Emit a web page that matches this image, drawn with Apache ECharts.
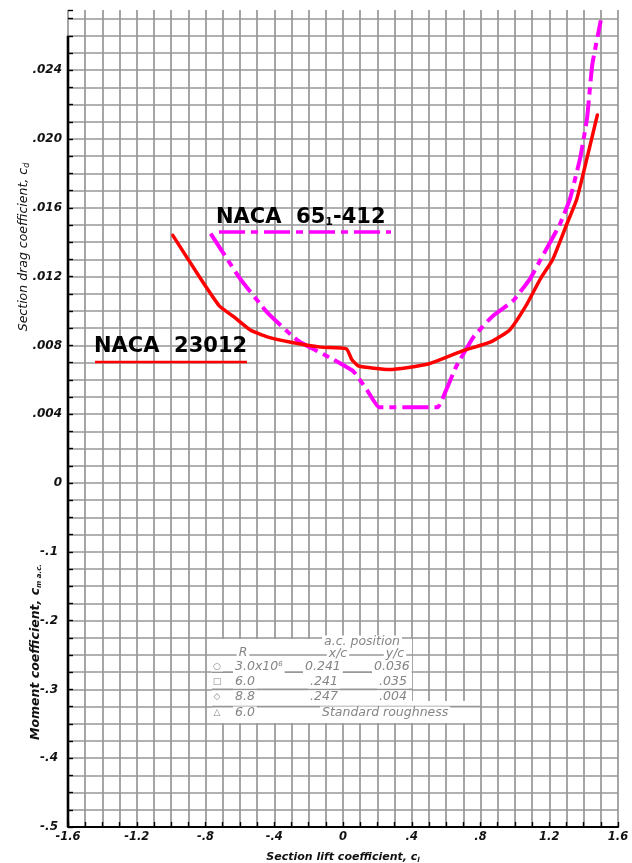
<!DOCTYPE html>
<html><head><meta charset="utf-8">
<script src="https://cdn.jsdelivr.net/npm/echarts@6/dist/echarts.min.js"></script>
<style>html,body{margin:0;padding:0;background:#fff}#c{width:632px;height:863px}</style>
</head><body><div id="c"></div>
<script>
// ---- data ----
const liftNACA23012 = [-0.99, -0.83, -0.72, -0.64, -0.54, -0.44, -0.31, -0.13, 0.02, 0.05, 0.09, 0.27, 0.49, 0.70, 0.86, 0.97, 1.07, 1.15, 1.22, 1.30, 1.36, 1.42, 1.48];
const dragNACA23012 = [0.0144, 0.0119, 0.0103, 0.0097, 0.0089, 0.0085, 0.0082, 0.0079, 0.0078, 0.0072, 0.0068, 0.0066, 0.0069, 0.0077, 0.0082, 0.0089, 0.0104, 0.0119, 0.0130, 0.0150, 0.0165, 0.0189, 0.0214];
const liftNACA65 = [-0.77, -0.60, -0.44, -0.29, -0.25, -0.06, 0.06, 0.14, 0.21, 0.55, 0.60, 0.66, 0.76, 0.87, 0.99, 1.09, 1.15, 1.26, 1.32, 1.38, 1.42, 1.45, 1.50];
const dragNACA65 = [0.0145, 0.0119, 0.0099, 0.0085, 0.0082, 0.0072, 0.0065, 0.0054, 0.0044, 0.0044, 0.0054, 0.0068, 0.0085, 0.0097, 0.0106, 0.0119, 0.0130, 0.0150, 0.0165, 0.0189, 0.0212, 0.0243, 0.0269];

const xTickValues = [-1.6, -1.2, -0.8, -0.4, 0, 0.4, 0.8, 1.2, 1.6];
const xTickLabels = ['-1.6', '-1.2', '-.8', '-.4', '0', '.4', '.8', '1.2', '1.6'];
const dragTickValues = [0, 0.004, 0.008, 0.012, 0.016, 0.020, 0.024];
const dragTickLabels = ['0', '.004', '.008', '.012', '.016', '.020', '.024'];
const momentTickValues = [-0.1, -0.2, -0.3, -0.4, -0.5];
const momentTickLabels = ['-.1', '-.2', '-.3', '-.4', '-.5'];

const tableSymbols = ['○', '□', '◇', '△'];
const tableR = ['3.0x10', '6.0', '8.8', '6.0'];
const tableXc = ['0.241', '.241', '.247', 'Standard roughness'];
const tableYc = ['0.036', '.035', '.004', ''];

(function () {
function lookup(vals, labels, v, tol) {
  for (let i = 0; i < vals.length; i++) if (Math.abs(vals[i] - v) < tol) return labels[i];
  return '';
}
function zip(a, b) { return a.map((v, i) => [v, b[i]]); }

const GRID = '#979797';
const tickFont = { fontFamily: 'DejaVu Sans', fontStyle: 'italic', fontWeight: 'bold', color: '#111' };

const chart = echarts.init(document.getElementById('c'), null, { renderer: 'canvas' });
const option = {
  backgroundColor: '#fff',
  animation: false,
  grid: { left: 68, right: 14, top: 10, bottom: 36, containLabel: false, outerBoundsMode: 'none' },
  xAxis: {
    type: 'value', min: -1.6, max: 1.6, interval: 0.1,
    axisLine: { show: true, onZero: false, lineStyle: { color: '#000', width: 2.2 } },
    axisTick: { show: true, inside: true, length: 5, lineStyle: { color: '#000', width: 1.4 } },
    splitLine: { show: true, lineStyle: { color: GRID, width: 1.7 } },
    axisLabel: Object.assign({ fontSize: 11.5, margin: 4, formatter: v => lookup(xTickValues, xTickLabels, v, 1e-6) }, tickFont),
    name: 'Section lift coefficient, c{s|l}',
    nameLocation: 'middle', nameGap: 24,
    nameTextStyle: {
      fontFamily: 'DejaVu Sans', fontStyle: 'italic', fontWeight: 'bold', fontSize: 11, color: '#111',
      rich: { s: { fontFamily: 'DejaVu Sans', fontStyle: 'italic', fontWeight: 'bold', fontSize: 7, color: '#111', padding: [6, 0, 0, 0] } }
    }
  },
  yAxis: [{
    type: 'value', min: -0.020, max: 0.0275, interval: 0.001,
    axisLine: { show: false, onZero: false },
    axisTick: { show: true, inside: true, length: 5, lineStyle: { color: '#000', width: 1.4 } },
    splitLine: { show: true, showMaxLine: false, lineStyle: { color: GRID, width: 1.7 } },
    axisLabel: Object.assign({ fontSize: 12, margin: 6, formatter: v => lookup(dragTickValues, dragTickLabels, v, 1e-7) }, tickFont)
  }, {
    type: 'value', min: -0.5, max: 0.6875, interval: 0.1, position: 'left', offset: 0,
    axisLine: { show: false, onZero: false },
    axisTick: { show: false },
    splitLine: { show: false },
    axisLabel: Object.assign({ fontSize: 12, margin: 10, formatter: v => lookup(momentTickValues, momentTickLabels, v, 1e-6) }, tickFont)
  }],
  series: [{
    name: 'NACA 23012', type: 'line', yAxisIndex: 0, showSymbol: false, symbol: 'none', z: 6,
    smooth: 0.15,
    data: zip(liftNACA23012, dragNACA23012),
    lineStyle: { color: '#ff0000', width: 3.5, cap: 'round', join: 'round' }
  }, {
    name: 'NACA 65-412', type: 'line', yAxisIndex: 0, showSymbol: false, symbol: 'none', z: 5,
    smooth: 0.12,
    data: zip(liftNACA65, dragNACA65),
    lineStyle: { color: '#ff00ff', width: 4, type: [26, 6, 7, 6], cap: 'butt', join: 'round' }
  }]
};
chart.setOption(option);

const px = (x, y) => chart.convertToPixel({ gridIndex: 0 }, [x, y]);
const pTop = px(-1.6, 0.026), pBot = px(-1.6, -0.020);
const g = [];
g.push({ type: 'line', z: 50, shape: { x1: pTop[0], y1: pTop[1], x2: pBot[0], y2: pBot[1] }, style: { stroke: '#000', lineWidth: 2.6 } });

g.push({ type: 'rect', z: 40, shape: { x: 212, y: 639, width: 200, height: 84 }, style: { fill: '#fff' } });
g.push({ type: 'rect', z: 40, shape: { x: 410, y: 701, width: 70, height: 22 }, style: { fill: '#fff' } });
[-0.010, -0.011, -0.012, -0.013].forEach(v => {
  const p = px(0, v);
  g.push({ type: 'line', z: 41, shape: { x1: 212, y1: p[1], x2: v === -0.013 ? 480 : 412, y2: p[1] }, style: { stroke: GRID, lineWidth: 1.7 } });
});
const tFont = { fontFamily: 'DejaVu Sans', fontStyle: 'italic', fontSize: 12.5, fill: '#858585', backgroundColor: '#fff', padding: [0, 2] };
function tt(text, x, y, align, extra) {
  g.push({ type: 'text', z: 45, x: x, y: y, style: Object.assign({ text: text, align: align || 'left', verticalAlign: 'middle' }, tFont, extra || {}) });
}
tt('a.c. position', 362, 642, 'center');
tt('R', 243, 653, 'center');
tt('x/c', 338, 654, 'center');
tt('y/c', 395, 654, 'center');
const rowY = [667, 682, 697, 713];
rowY.forEach((y, i) => {
  tt(tableSymbols[i], 217, y, 'center', { fontSize: 9 });
  if (i === 0) {
    g.push({ type: 'text', z: 45, x: 233, y: y, style: Object.assign({ text: tableR[i] + '{sup|6}', align: 'left', verticalAlign: 'middle',
      rich: { sup: { fontFamily: 'DejaVu Sans', fontStyle: 'italic', fontSize: 7, fill: '#858585', padding: [0, 0, 6, 0] } } }, tFont) });
  } else {
    tt(tableR[i], 233, y, 'left');
  }
  tt(tableXc[i], i === 3 ? 320 : (i === 0 ? 303 : 308), y, 'left');
  if (tableYc[i]) tt(tableYc[i], i === 0 ? 372 : 377, y, 'left');
});

const boldFont = { fontFamily: 'DejaVu Sans', fontWeight: 'bold', fontSize: 21, fill: '#000' };
g.push({ type: 'text', z: 60, x: 216, y: 218, style: Object.assign({ text: 'NACA  65{s|1}-412', align: 'left', verticalAlign: 'middle',
  rich: { s: { fontFamily: 'DejaVu Sans', fontWeight: 'bold', fontSize: 11, fill: '#000', padding: [9, 0, 0, 0] } } }, boldFont) });
g.push({ type: 'line', z: 60, shape: { x1: 219, y1: 232, x2: 391, y2: 232 }, style: { stroke: '#ff00ff', lineWidth: 3.5, lineDash: [26, 6, 7, 6] } });
g.push({ type: 'text', z: 60, x: 94, y: 347, style: Object.assign({ text: 'NACA  23012', align: 'left', verticalAlign: 'middle' }, boldFont) });
g.push({ type: 'line', z: 60, shape: { x1: 95, y1: 362, x2: 247, y2: 362 }, style: { stroke: '#ff0000', lineWidth: 2.5 } });

g.push({ type: 'text', z: 60, x: 24, y: 247, rotation: Math.PI / 2, style: { text: 'Section drag coefficient, c{s|d}', align: 'center', verticalAlign: 'middle',
  fontFamily: 'DejaVu Sans', fontStyle: 'italic', fontSize: 12.5, fill: '#111',
  rich: { s: { fontFamily: 'DejaVu Sans', fontStyle: 'italic', fontSize: 8, fill: '#111', padding: [6, 0, 0, 0] } } } });
g.push({ type: 'text', z: 60, x: 36, y: 652, rotation: Math.PI / 2, style: { text: 'Moment coefficient, c{s|m a.c.}', align: 'center', verticalAlign: 'middle',
  fontFamily: 'DejaVu Sans', fontStyle: 'italic', fontWeight: 'bold', fontSize: 12.5, fill: '#111',
  rich: { s: { fontFamily: 'DejaVu Sans', fontStyle: 'italic', fontWeight: 'bold', fontSize: 7, fill: '#111', padding: [6, 0, 0, 0] } } } });

chart.setOption({ graphic: g });
})();
</script></body></html>
